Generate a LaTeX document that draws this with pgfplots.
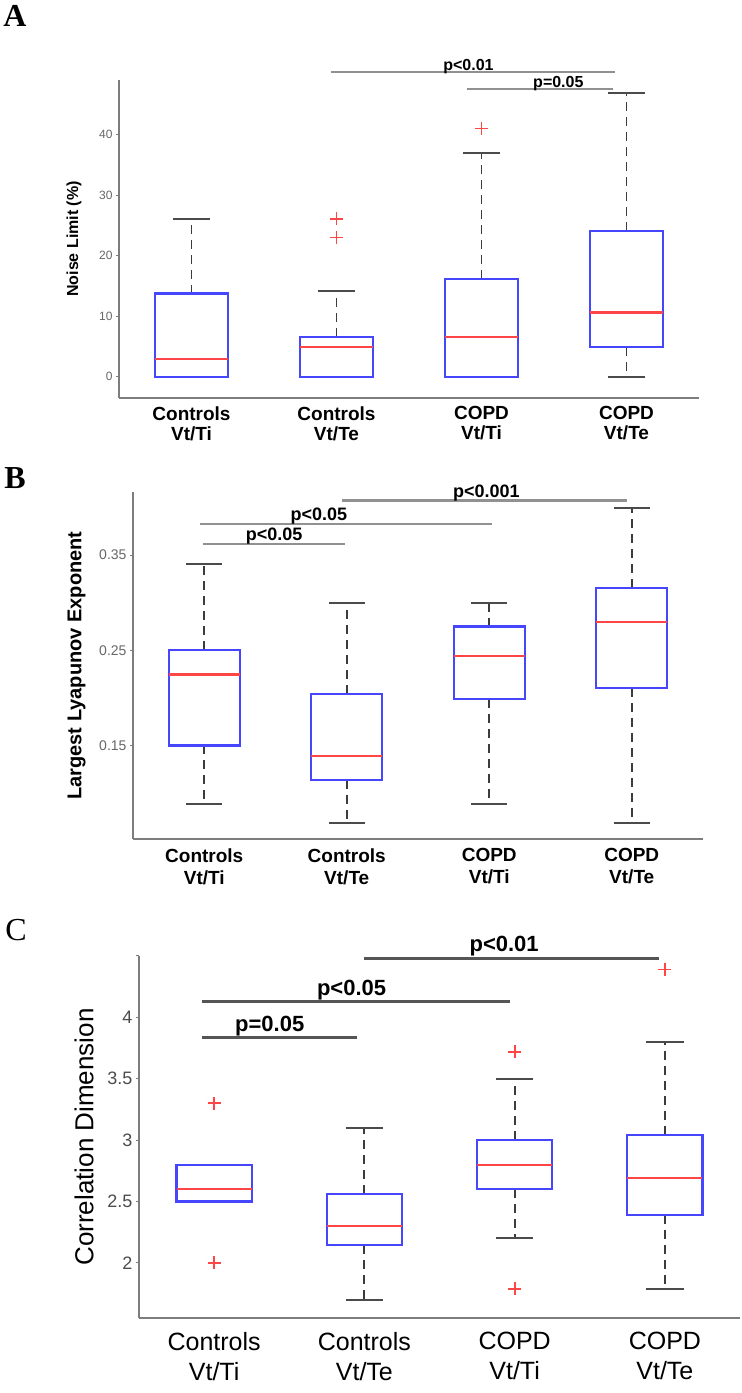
\documentclass[border=0pt]{standalone}
\usepackage{fontspec}
\setmainfont{Liberation Sans}
\newfontfamily\letterfont{Liberation Serif}
\usepackage{pgfplots}
\pgfplotsset{compat=1.18}
\usepgfplotslibrary{statistics}

\definecolor{boxblue}{RGB}{70,70,255}
\definecolor{medred}{RGB}{255,70,70}
\definecolor{whisk}{RGB}{60,60,60}
\definecolor{capc}{RGB}{75,75,75}
\definecolor{axgray}{RGB}{125,125,125}
\definecolor{sigA}{RGB}{145,145,145}
\definecolor{sigC}{RGB}{85,85,85}

\pgfplotsset{
  mybox/.style={
    scale only axis,
    xmin=0.5, xmax=4.5,
    axis x line=bottom, axis y line=left,
    axis line style={-, draw=axgray, line width=2bp},
    xtick={1,2,3,4},
    xtick style={draw=none},
    ytick style={draw=axgray, line width=1bp},
    tick align=outside,
    major tick length=3bp,
    clip=false,
    /pgf/number format/assume math mode=true,
    boxplot/draw direction=y,
    boxplot/box extend=0.5,
    boxplot/whisker extend=0,
    boxplot/every box/.style={draw=boxblue, line width=2.2bp, solid},
    boxplot/every median/.style={draw=medred, line width=2.2bp, solid},
    boxplot/every whisker/.style={draw=whisk, line width=1.8bp, dash pattern=on 9bp off 6bp},
  },
  out/.style={mark=+, mark size=6.5bp, mark options={draw=medred, line width=1.8bp, solid}},
  cap/.style={draw=capc, line width=2bp, solid, mark=none},
}

\begin{document}
\begin{tikzpicture}
\useasboundingbox (0,0) rectangle (742bp,1393bp);

% Panel letters
\node[font=\fontsize{32bp}{32bp}\selectfont\letterfont\bfseries] at (15bp,1377bp) {A};
\node[font=\fontsize{32bp}{32bp}\selectfont\letterfont\bfseries] at (15bp,915bp) {B};
\node[font=\fontsize{32bp}{32bp}\selectfont\letterfont] at (16bp,463bp) {C};

% ---------------- Panel A ----------------
\begin{axis}[mybox,
  at={(119bp,995bp)}, anchor=south west,
  width=580bp, height=318bp,
  ymin=-3.5, ymax=49,
  ytick={0,10,20,30,40},
  yticklabels={0,10,20,30,40},
  yticklabel style={font=\fontsize{12bp}{12bp}\selectfont, text=black!60},
  xticklabels={{Controls\\Vt/Ti},{Controls\\Vt/Te},{COPD\\Vt/Ti},{COPD\\Vt/Te}},
  xticklabel style={align=center, font=\fontsize{19bp}{20bp}\selectfont\bfseries, yshift=-2bp},
  ylabel={Noise Limit (\%)},
  ylabel style={at={(axis description cs:-0.0776,0.5)}, anchor=center, font=\fontsize{16bp}{16bp}\selectfont\bfseries},
]
\addplot[out, boxplot prepared={draw position=1, lower whisker=0, lower quartile=0, median=3.0, upper quartile=13.75, upper whisker=26.1}] coordinates {};
\addplot[out, boxplot prepared={draw position=2, lower whisker=0, lower quartile=0, median=4.95, upper quartile=6.6, upper whisker=14.2}] coordinates {(2,23.0) (2,26.1)};
\addplot[out, boxplot prepared={draw position=3, lower whisker=0, lower quartile=0, median=6.6, upper quartile=16.1, upper whisker=37.0}] coordinates {(3,41.0)};
\addplot[out, boxplot prepared={draw position=4, lower whisker=0, lower quartile=4.95, median=10.6, upper quartile=24.1, upper whisker=46.9}] coordinates {};
% whisker caps
\addplot[cap] coordinates {(0.875,26.1) (1.125,26.1)};
\addplot[cap] coordinates {(1.875,14.2) (2.125,14.2)};
\addplot[cap] coordinates {(2.875,37.0) (3.125,37.0)};
\addplot[cap] coordinates {(3.875,46.9) (4.125,46.9)};
\addplot[cap] coordinates {(3.875,0) (4.125,0)};
% significance bars
\addplot[sigA, line width=2.5bp, mark=none] coordinates {(1.96,50.3) (3.92,50.3)};
\addplot[sigA, line width=2.5bp, mark=none] coordinates {(2.90,47.5) (3.91,47.5)};
\node[anchor=base, inner sep=0pt, font=\fontsize{16bp}{16bp}\selectfont\bfseries] at (axis cs:2.91,50.6) {p<0.01};
\node[anchor=base, inner sep=0pt, font=\fontsize{16bp}{16bp}\selectfont\bfseries] at (axis cs:3.53,47.8) {p=0.05};
\end{axis}

% ---------------- Panel B ----------------
\begin{axis}[mybox,
  at={(133bp,554bp)}, anchor=south west,
  width=570bp, height=347bp,
  ymin=0.0517, ymax=0.4164,
  ytick={0.15,0.25,0.35},
  yticklabels={0.15,0.25,0.35},
  yticklabel style={font=\fontsize{14bp}{14bp}\selectfont, text=black!60},
  xticklabels={{Controls\\Vt/Ti},{Controls\\Vt/Te},{COPD\\Vt/Ti},{COPD\\Vt/Te}},
  xticklabel style={align=center, font=\fontsize{19bp}{22bp}\selectfont\bfseries, yshift=-3bp},
  ylabel={Largest Lyapunov Exponent},
  ylabel style={at={(axis description cs:-0.099,0.5)}, anchor=center, font=\fontsize{20bp}{20bp}\selectfont\bfseries},
]
\addplot[out, boxplot prepared={draw position=1, lower whisker=0.0885, lower quartile=0.15, median=0.2245, upper quartile=0.25, upper whisker=0.3406}] coordinates {};
\addplot[out, boxplot prepared={draw position=2, lower whisker=0.0685, lower quartile=0.114, median=0.139, upper quartile=0.2045, upper whisker=0.30}] coordinates {};
\addplot[out, boxplot prepared={draw position=3, lower whisker=0.0885, lower quartile=0.199, median=0.2444, upper quartile=0.275, upper whisker=0.30}] coordinates {};
\addplot[out, boxplot prepared={draw position=4, lower whisker=0.0685, lower quartile=0.2105, median=0.2794, upper quartile=0.3157, upper whisker=0.40}] coordinates {};
% whisker caps
\addplot[cap] coordinates {(0.875,0.3406) (1.125,0.3406)};
\addplot[cap] coordinates {(0.875,0.0885) (1.125,0.0885)};
\addplot[cap] coordinates {(1.875,0.30) (2.125,0.30)};
\addplot[cap] coordinates {(1.875,0.0685) (2.125,0.0685)};
\addplot[cap] coordinates {(2.875,0.30) (3.125,0.30)};
\addplot[cap] coordinates {(2.875,0.0885) (3.125,0.0885)};
\addplot[cap] coordinates {(3.875,0.40) (4.125,0.40)};
\addplot[cap] coordinates {(3.875,0.0685) (4.125,0.0685)};
% significance bars
\addplot[sigA, line width=2.5bp, mark=none] coordinates {(1.97,0.4077) (3.97,0.4077)};
\addplot[sigA, line width=2.5bp, mark=none] coordinates {(0.97,0.3825) (3.02,0.3825)};
\addplot[sigA, line width=2.5bp, mark=none] coordinates {(0.99,0.3615) (1.99,0.3615)};
\node[anchor=base, inner sep=0pt, font=\fontsize{18bp}{18bp}\selectfont\bfseries] at (axis cs:2.98,0.411) {p<0.001};
\node[anchor=base, inner sep=0pt, font=\fontsize{18bp}{18bp}\selectfont\bfseries] at (axis cs:1.805,0.3867) {p<0.05};
\node[anchor=base, inner sep=0pt, font=\fontsize{18bp}{18bp}\selectfont\bfseries] at (axis cs:1.49,0.3657) {p<0.05};
\end{axis}

% ---------------- Panel C ----------------
\begin{axis}[mybox,
  at={(139bp,75bp)}, anchor=south west,
  width=601bp, height=362bp,
  ymin=1.552, ymax=4.5,
  ytick={2,2.5,3,3.5,4,4.5},
  yticklabels={2,2.5,3,3.5,4,{}},
  yticklabel style={font=\fontsize{18bp}{18bp}\selectfont, text=black!70},
  xticklabels={{Controls\\Vt/Ti},{Controls\\Vt/Te},{COPD\\Vt/Ti},{COPD\\Vt/Te}},
  xticklabel style={align=center, font=\fontsize{25bp}{30bp}\selectfont, yshift=-8bp},
  ylabel={Correlation Dimension},
  ylabel style={at={(axis description cs:-0.0915,0.5)}, anchor=center, font=\fontsize{26bp}{26bp}\selectfont},
]
\addplot[out, boxplot prepared={draw position=1, lower whisker=2.5, lower quartile=2.5, median=2.6, upper quartile=2.8, upper whisker=2.8}] coordinates {(1,3.30) (1,2.0)};
\addplot[out, boxplot prepared={draw position=2, lower whisker=1.70, lower quartile=2.147, median=2.30, upper quartile=2.56, upper whisker=3.10}] coordinates {};
\addplot[out, boxplot prepared={draw position=3, lower whisker=2.2, lower quartile=2.6, median=2.8, upper quartile=3.0, upper whisker=3.5}] coordinates {(3,3.72) (3,1.79)};
\addplot[out, boxplot prepared={draw position=4, lower whisker=1.79, lower quartile=2.39, median=2.69, upper quartile=3.04, upper whisker=3.80}] coordinates {(4,4.39)};
% whisker caps
\addplot[cap] coordinates {(1.875,3.10) (2.125,3.10)};
\addplot[cap] coordinates {(1.875,1.70) (2.125,1.70)};
\addplot[cap] coordinates {(2.875,3.5) (3.125,3.5)};
\addplot[cap] coordinates {(2.875,2.2) (3.125,2.2)};
\addplot[cap] coordinates {(3.875,3.80) (4.125,3.80)};
\addplot[cap] coordinates {(3.875,1.79) (4.125,1.79)};
% significance bars
\addplot[sigC, line width=2.7bp, mark=none] coordinates {(2.0,4.481) (3.96,4.481)};
\addplot[sigC, line width=2.7bp, mark=none] coordinates {(0.917,4.13) (2.97,4.13)};
\addplot[sigC, line width=2.7bp, mark=none] coordinates {(0.917,3.837) (1.95,3.837)};
\node[anchor=base, inner sep=0pt, font=\fontsize{22bp}{22bp}\selectfont\bfseries] at (axis cs:2.93,4.535) {p<0.01};
\node[anchor=base, inner sep=0pt, font=\fontsize{22bp}{22bp}\selectfont\bfseries] at (axis cs:1.915,4.177) {p<0.05};
\node[anchor=base, inner sep=0pt, font=\fontsize{22bp}{22bp}\selectfont\bfseries] at (axis cs:1.37,3.883) {p=0.05};
\end{axis}
\end{tikzpicture}
\end{document}
